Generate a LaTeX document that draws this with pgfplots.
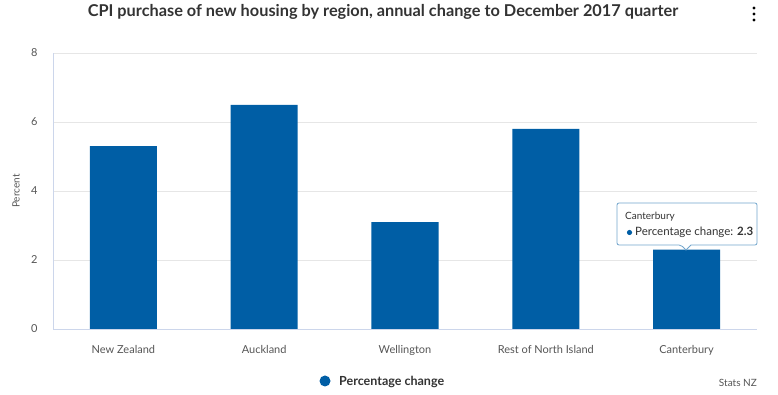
\documentclass[border=0pt]{standalone}
\usepackage{fontspec}
\setmainfont{Lato}
\usepackage{pgfplots}
\pgfplotsset{compat=1.18}
\definecolor{barblue}{RGB}{0,94,165}
\definecolor{txt}{RGB}{51,51,51}
\definecolor{tick}{RGB}{85,85,85}
\definecolor{gridc}{RGB}{230,230,230}
\definecolor{axc}{RGB}{204,214,235}
\begin{document}
\begin{tikzpicture}[x=1pt,y=1pt]
\path[use as bounding box] (0,0) rectangle (778,395);
\begin{axis}[
  at={(53pt,66pt)}, anchor=south west,
  scale only axis, width=704pt, height=276pt,
  xmin=-0.5, xmax=4.5, ymin=0, ymax=8,
  ybar, bar width=0.476, bar shift=0pt,
  xtick={0,1,2,3,4},
  xticklabels={New Zealand,Auckland,Wellington,Rest of North Island,Canterbury},
  ytick={0,2,4,6,8},
  ymajorgrids, grid style={gridc, line width=0.8pt},
  axis x line*=bottom, axis y line*=left,
  axis line style={axc, line width=0.8pt},
  x axis line style={-}, y axis line style={-},
  major tick length=0pt,
  tick label style={font=\fontsize{11}{13}\selectfont, text=tick},
  yticklabel style={xshift=-12pt},
  xticklabel style={yshift=-13pt},
  /pgf/number format/assume math mode=true,
  clip=false,
]
\addplot[fill=barblue, draw=none] coordinates {(0,5.3) (1,6.5) (2,3.1) (3,5.8) (4,2.3)};
\end{axis}
\node[rotate=90, font=\fontsize{10}{12}\selectfont, text=tick] at (16,204) {Percent};
% tooltip
\draw[draw=barblue!55!white, fill=white, line width=0.8pt, rounded corners=2pt]
  (617,150) -- (681,150) [sharp corners] -- (686,145) -- (691,150) [rounded corners=2pt] -- (757,150) -- (757,192) -- (617,192) -- cycle;
\node[anchor=west, font=\fontsize{10}{12}\selectfont, text=txt, inner sep=0pt] at (625,178) {Canterbury};
\fill[barblue] (629.5,162.5) circle (2.6);
\node[anchor=west, font=\fontsize{11.5}{13}\selectfont, text=txt, inner sep=0pt] at (635,162.5) {Percentage change: \textbf{2.3}};
\node[font=\bfseries\fontsize{16.3}{19}\selectfont, text=txt] at (383,383) {CPI purchase of new housing by region, annual change to December 2017 quarter};
\fill[black] (754,387) circle (1.6) (754,381) circle (1.6) (754,375) circle (1.6);
\fill[barblue] (325,14) circle (5.5);
\node[anchor=west, font=\bfseries\fontsize{12.5}{14}\selectfont, text=txt, inner sep=0pt] at (339,13.5) {Percentage change};
\node[anchor=east, font=\fontsize{10}{12}\selectfont, text=tick, inner sep=0pt] at (757,12) {Stats NZ};
\end{tikzpicture}
\end{document}
